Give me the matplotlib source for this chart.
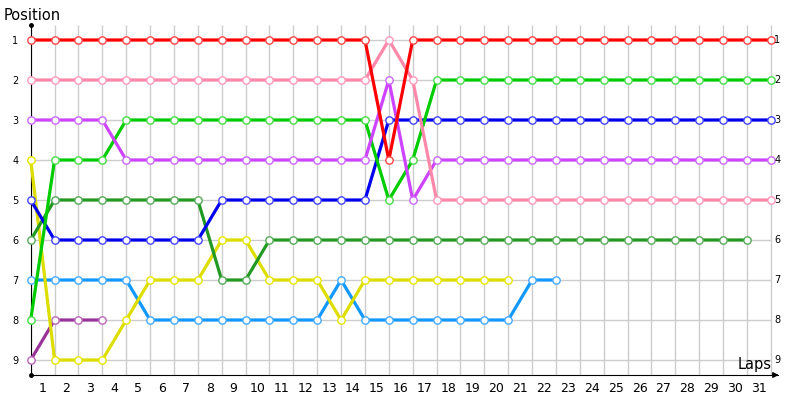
import matplotlib
matplotlib.use("Agg")
import matplotlib.pyplot as plt

# lap positions, index = lap number (lap 0 = grid)
red = [1, 1, 1, 1, 1, 1, 1, 1, 1, 1, 1, 1, 1, 1, 1, 4, 1, 1, 1, 1, 1, 1, 1, 1, 1, 1, 1, 1, 1, 1, 1, 1]
pink = [2, 2, 2, 2, 2, 2, 2, 2, 2, 2, 2, 2, 2, 2, 2, 1, 2, 5, 5, 5, 5, 5, 5, 5, 5, 5, 5, 5, 5, 5, 5, 5]
purple = [3, 3, 3, 3, 4, 4, 4, 4, 4, 4, 4, 4, 4, 4, 4, 2, 5, 4, 4, 4, 4, 4, 4, 4, 4, 4, 4, 4, 4, 4, 4, 4]
green = [8, 4, 4, 4, 3, 3, 3, 3, 3, 3, 3, 3, 3, 3, 3, 5, 4, 2, 2, 2, 2, 2, 2, 2, 2, 2, 2, 2, 2, 2, 2, 2]
blue = [5, 6, 6, 6, 6, 6, 6, 6, 5, 5, 5, 5, 5, 5, 5, 3, 3, 3, 3, 3, 3, 3, 3, 3, 3, 3, 3, 3, 3, 3, 3, 3]
dark_green = [6, 5, 5, 5, 5, 5, 5, 5, 7, 7, 6, 6, 6, 6, 6, 6, 6, 6, 6, 6, 6, 6, 6, 6, 6, 6, 6, 6, 6, 6, 6]
yellow = [4, 9, 9, 9, 8, 7, 7, 7, 6, 6, 7, 7, 7, 8, 7, 7, 7, 7, 7, 7, 7]
light_blue = [7, 7, 7, 7, 7, 8, 8, 8, 8, 8, 8, 8, 8, 7, 8, 8, 8, 8, 8, 8, 8, 7, 7]
dark_purple = [9, 8, 8, 8]

series = [
    (dark_purple, "#993399", "#bb66bb"),
    (light_blue, "#1199ff", "#44aaff"),
    (yellow, "#dddd00", "#e6e600"),
    (dark_green, "#229922", "#55aa55"),
    (blue, "#0000ee", "#4444ff"),
    (green, "#00cc00", "#44dd44"),
    (purple, "#cc44ff", "#cc66ff"),
    (pink, "#ff88aa", "#ff99bb"),
    (red, "#ff0000", "#ff4444"),
]

n_laps = 31
positions = list(range(1, 10))

fig = plt.figure(figsize=(8, 4), dpi=100)
ax = fig.add_axes([30.7 / 800, 25 / 400, 747.3 / 800, 350 / 400])
ax.set_xlim(0, 31.3)
ax.set_ylim(9.375, 0.625)

# grid
ax.vlines(range(0, n_laps + 1), 0.625, 9.375, color="#cccccc", lw=1, zorder=0)
ax.hlines(positions, 0, n_laps, color="#cccccc", lw=1, zorder=0)

for vals, col, mcol in series:
    ax.plot(range(len(vals)), vals, color=col, lw=2.3, marker="o", ms=5.3,
            mfc="white", mec=mcol, mew=1, zorder=3, clip_on=False)

for s in ["top", "right"]:
    ax.spines[s].set_visible(False)
ax.spines["left"].set_color("black")
ax.spines["bottom"].set_color("black")

ax.set_yticks(positions)
ax.set_yticklabels([str(p) for p in positions], fontsize=7)
ax.set_xticks([i - 0.5 for i in range(1, n_laps + 1)])
ax.set_xticklabels([str(i) for i in range(1, n_laps + 1)], fontsize=9)
ax.tick_params(axis="y", length=0, pad=9)
ax.tick_params(axis="x", length=0, pad=5)

for p in positions:
    ax.text(31.15, p, str(p), fontsize=7, ha="left", va="center")

# axis decorations
ax.plot([0], [0.625], marker="o", ms=2.5, color="black", clip_on=False, zorder=5)
ax.plot([0], [9.375], marker="o", ms=2.5, color="black", clip_on=False, zorder=5)
ax.annotate("", xy=(31.45, 9.375), xytext=(31.0, 9.375),
            arrowprops=dict(arrowstyle="-|>", color="black", lw=1, mutation_scale=8),
            annotation_clip=False)

fig.text(4 / 800, 1 - 15 / 400, "Position", fontsize=10.5, ha="left", va="center")
fig.text(772 / 800, 1 - 364 / 400, "Laps", fontsize=10.5, ha="right", va="center")

fig.savefig("out.png", dpi=100)
